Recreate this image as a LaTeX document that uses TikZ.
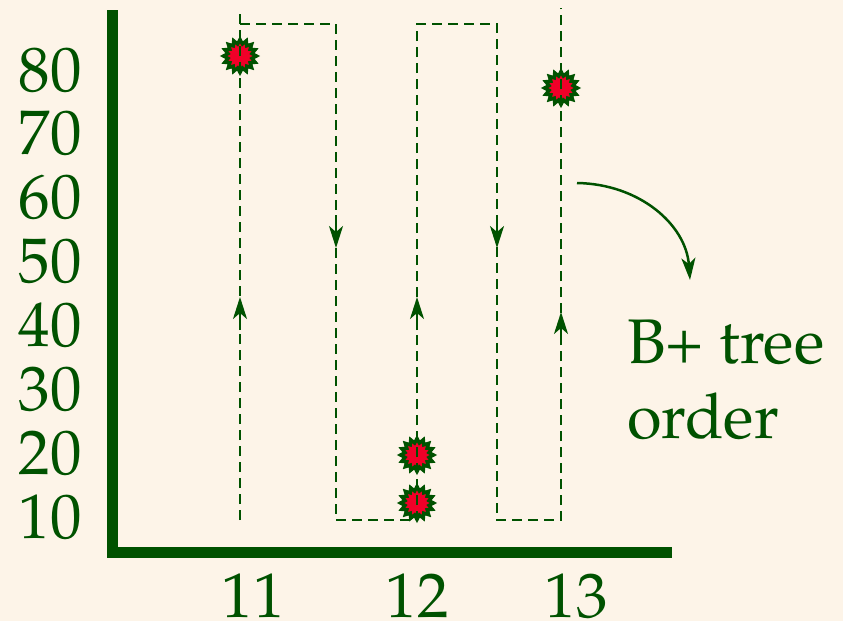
\documentclass[tikz,border=0pt]{standalone}
\usepackage[T1]{fontenc}
\usepackage{mathpazo}
\usetikzlibrary{arrows.meta,shapes.geometric}
\definecolor{paper}{RGB}{253,244,232}
\definecolor{dkgreen}{RGB}{0,82,0}
\definecolor{hitred}{RGB}{240,0,40}
\tikzset{
  axis/.style={line width=11pt, dkgreen},
  scan/.style={dashed, dash pattern=on 10pt off 6pt, line width=2.2pt, dkgreen},
  dir/.style={line width=2.2pt, dkgreen, -{Stealth[length=22pt,width=14pt,inset=6pt]}},
  hit/.style={star, star points=16, star point ratio=1.35, minimum size=33pt,
    inner sep=0pt, fill=hitred, draw=dkgreen, line width=3.4pt},
  lab/.style={dkgreen, inner sep=0pt, font=\fontsize{63}{75}\selectfont}
}
\begin{document}
\begin{tikzpicture}[x=1pt,y=-1pt]
        \fill[paper] (0,0) rectangle (843,621);
        \useasboundingbox (0,0) rectangle (843,621);
        % axes
        \draw[axis] (112.5,10) -- (112.5,557);
        \draw[axis] (107,552) -- (672,552);
        % y labels
        \foreach \v [count=\i from 0] in {80,70,60,50,40,30,20,10}
          \node[lab, anchor=base east] (y\v) at (82,{91+63.9*\i}) {\v};
        % x labels
        \node[lab, anchor=base] (x11) at (253,617) {11};
        \node[lab, anchor=base] (x12) at (417,617) {12};
        \node[lab, anchor=base] (x13) at (576,617) {13};
        % points
        \node[hit] (p1) at (240,56) {};
        \node[hit] (p2) at (417,455) {};
        \node[hit] (p3) at (417,503) {};
        \node[hit] (p4) at (561,88) {};
        % scan order
        \draw[scan] (240,520) -- (240,8);
        \draw[scan] (240,24) -- (336,24) -- (336,520) -- (417,520) -- (417,24)
          -- (497,24) -- (497,520) -- (561,520) -- (561,8);
        \draw[dir] (240,330) -- (240,297);
        \draw[dir] (336,215) -- (336,248);
        \draw[dir] (417,330) -- (417,297);
        \draw[dir] (497,215) -- (497,248);
        \draw[dir] (561,345) -- (561,312);
        % annotation
        \node[lab, anchor=base west, align=left] (note) at (627,438) {B+ tree\\order};
        \coordinate (from) at (577,183);
        \coordinate (to) at (690,280);
        \draw[line width=2.5pt, dkgreen, -{Stealth[length=22pt,width=14pt,inset=6pt]}]
          (from) .. controls (640,184) and (686,225) .. (to);
    \end{tikzpicture}
\end{document}
